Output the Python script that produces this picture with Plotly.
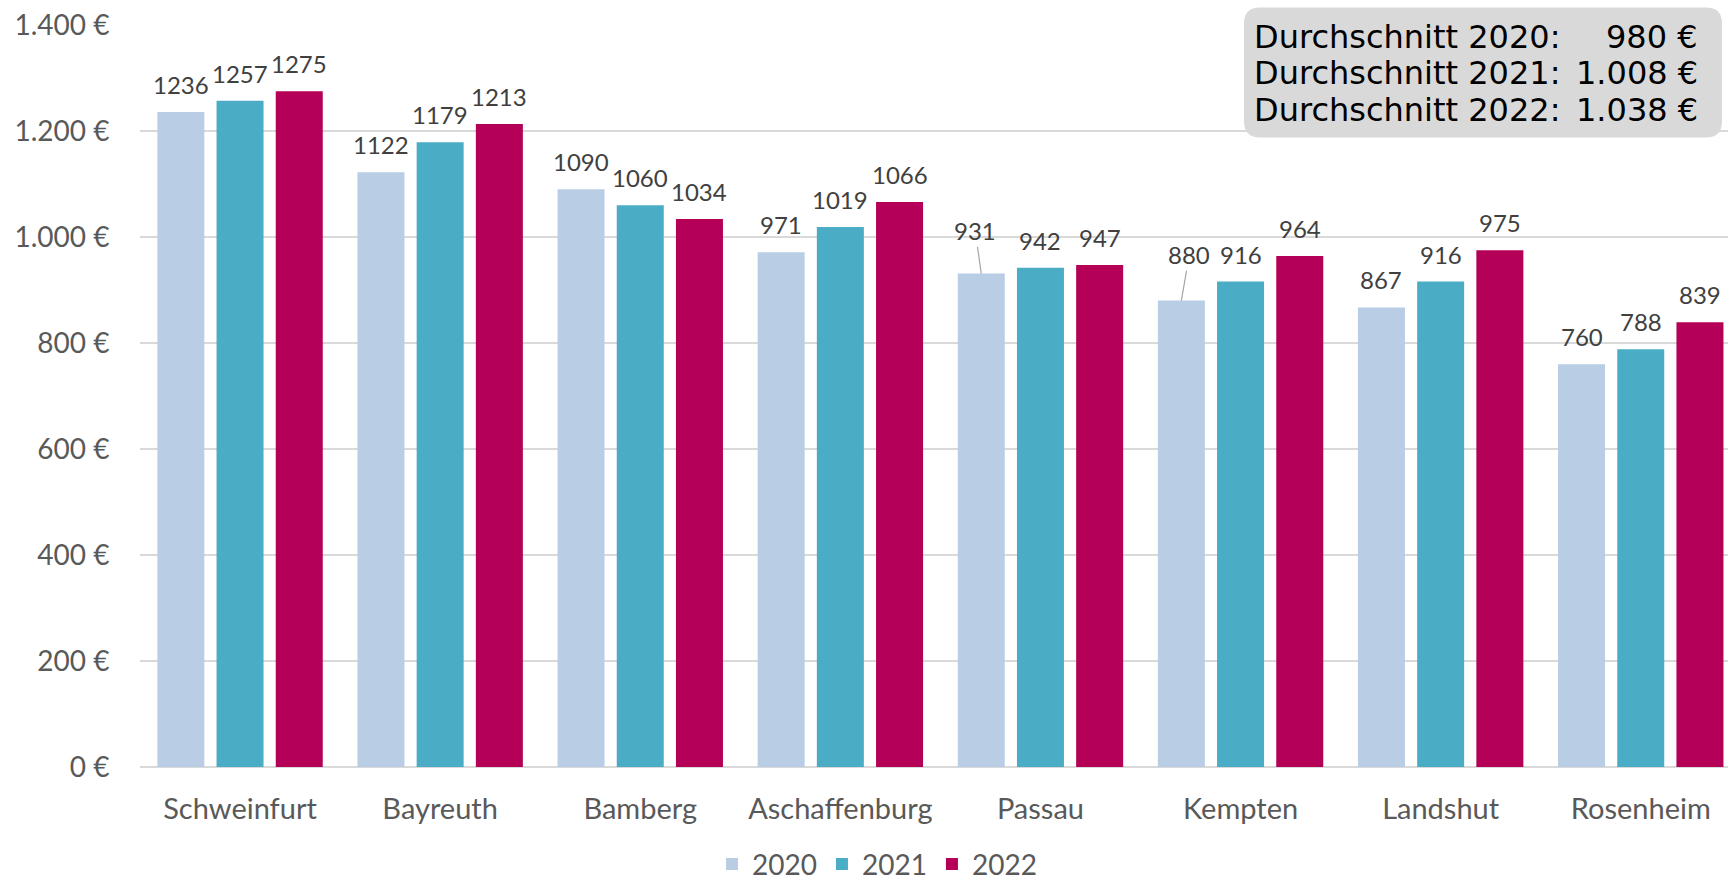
import plotly.graph_objects as go

cities = ["Schweinfurt", "Bayreuth", "Bamberg", "Aschaffenburg", "Passau", "Kempten", "Landshut", "Rosenheim"]
years = ["2020", "2021", "2022"]
v2020 = [1236, 1122, 1090, 971, 931, 880, 867, 760]
v2021 = [1257, 1179, 1060, 1019, 942, 916, 916, 788]
v2022 = [1275, 1213, 1034, 1066, 947, 964, 975, 839]
colors = ["#b9cde5", "#4bacc6", "#b40056"]
y_ticks = [0, 200, 400, 600, 800, 1000, 1200, 1400]
y_ticktext = ["0 €", "200 €", "400 €", "600 €", "800 €", "1.000 €", "1.200 €", "1.400 €"]
avg_labels = ["Durchschnitt 2020:", "Durchschnitt 2021:", "Durchschnitt 2022:"]
avg_values = ["980 €", "1.008 €", "1.038 €"]

series = [v2020, v2021, v2022]
W, H = 1728, 882
L, R, T, B = 140, 0, 24.5, 115.3
pw, ph = W - L - R, H - T - B
cat_px = 200.1
x_range = [-0.5, -0.5 + pw / cat_px]
bargap, bargroupgap = 0.1124, 0.206
slot = (1 - bargap) / 3

FONT = "Lato, 'Open Sans', sans-serif"
fig = go.Figure()
xs = list(range(len(cities)))
for name, vals, col in zip(years, series, colors):
    fig.add_trace(go.Bar(x=xs, y=vals, name=name, marker=dict(color=col, line=dict(width=0)),
                         hoverinfo="y"))

annotations = []
special = {(0, 4): (-6, -42.7), (0, 5): (8, -46)}
for j, vals in enumerate(series):
    off = (j - 1) * slot
    for i, v in enumerate(vals):
        if (j, i) in special:
            ax, ay = special[(j, i)]
            annotations.append(dict(x=i + off, y=v, xref="x", yref="y", text=str(v),
                                    showarrow=True, arrowhead=0, arrowwidth=1.2, arrowcolor="#a6a6a6",
                                    ax=ax, ay=ay, standoff=0,
                                    font=dict(family=FONT, size=24, color="#404040")))
        else:
            annotations.append(dict(x=i + off, y=v, xref="x", yref="y", text=str(v),
                                    showarrow=False, yanchor="middle", xanchor="center", yshift=27.5,
                                    font=dict(family=FONT, size=24, color="#404040")))

def px2x(px):
    return (px - L) / pw

def py2y(py):
    return (H - B - py) / ph

# Average box
bx0, bx1, by0, by1 = px2x(1244), px2x(1722), py2y(137), py2y(7)
rx, ry = 16 / pw, 16 / ph
path = (f"M {bx0+rx},{by0} L {bx1-rx},{by0} Q {bx1},{by0} {bx1},{by0+ry} "
        f"L {bx1},{by1-ry} Q {bx1},{by1} {bx1-rx},{by1} L {bx0+rx},{by1} "
        f"Q {bx0},{by1} {bx0},{by1-ry} L {bx0},{by0+ry} Q {bx0},{by0} {bx0+rx},{by0} Z")
shapes = [dict(type="path", xref="paper", yref="paper", path=path,
               fillcolor="#d9d9d9", line=dict(width=0), layer="above")]

BOXFONT = "'DejaVu Sans', Verdana, sans-serif"
line_centers = [36.5, 73, 109.5]
for lab, val, cy in zip(avg_labels, avg_values, line_centers):
    annotations.append(dict(x=px2x(1252), y=py2y(cy), xref="paper", yref="paper", text=lab,
                            showarrow=False, xanchor="left", yanchor="middle",
                            font=dict(family=BOXFONT, size=32, color="#000000")))
    annotations.append(dict(x=px2x(1700), y=py2y(cy), xref="paper", yref="paper", text=val,
                            showarrow=False, xanchor="right", yanchor="middle",
                            font=dict(family=BOXFONT, size=32, color="#000000")))

fig.update_layout(
    width=W, height=H,
    margin=dict(l=L, r=R, t=T, b=B, pad=0, autoexpand=False),
    paper_bgcolor="white", plot_bgcolor="white",
    barmode="group", bargap=bargap, bargroupgap=bargroupgap,
    font=dict(family=FONT, size=28, color="#595959"),
    xaxis=dict(range=x_range, tickmode="array", tickvals=xs, ticktext=cities,
               showgrid=False, zeroline=False, showline=False,
               ticks="outside", ticklen=16, tickcolor="rgba(0,0,0,0)",
               tickfont=dict(family=FONT, size=29, color="#595959")),
    yaxis=dict(range=[0, 1400], tickmode="array", tickvals=y_ticks, ticktext=y_ticktext,
               showgrid=True, gridcolor="#d9d9d9", gridwidth=1.5,
               zeroline=True, zerolinecolor="#d9d9d9", zerolinewidth=1.5,
               showline=False, ticks="outside", ticklen=24, tickcolor="rgba(0,0,0,0)",
               tickfont=dict(family=FONT, size=28, color="#595959")),
    legend=dict(orientation="h", x=px2x(712), xanchor="left", y=py2y(864), yanchor="middle",
                font=dict(family=FONT, size=28, color="#595959"),
                bgcolor="rgba(0,0,0,0)", traceorder="normal"),
    annotations=annotations,
    shapes=shapes,
)

fig.write_html("out.html", config={"displayModeBar": False},
               post_script="document.body.style.margin='0';")
